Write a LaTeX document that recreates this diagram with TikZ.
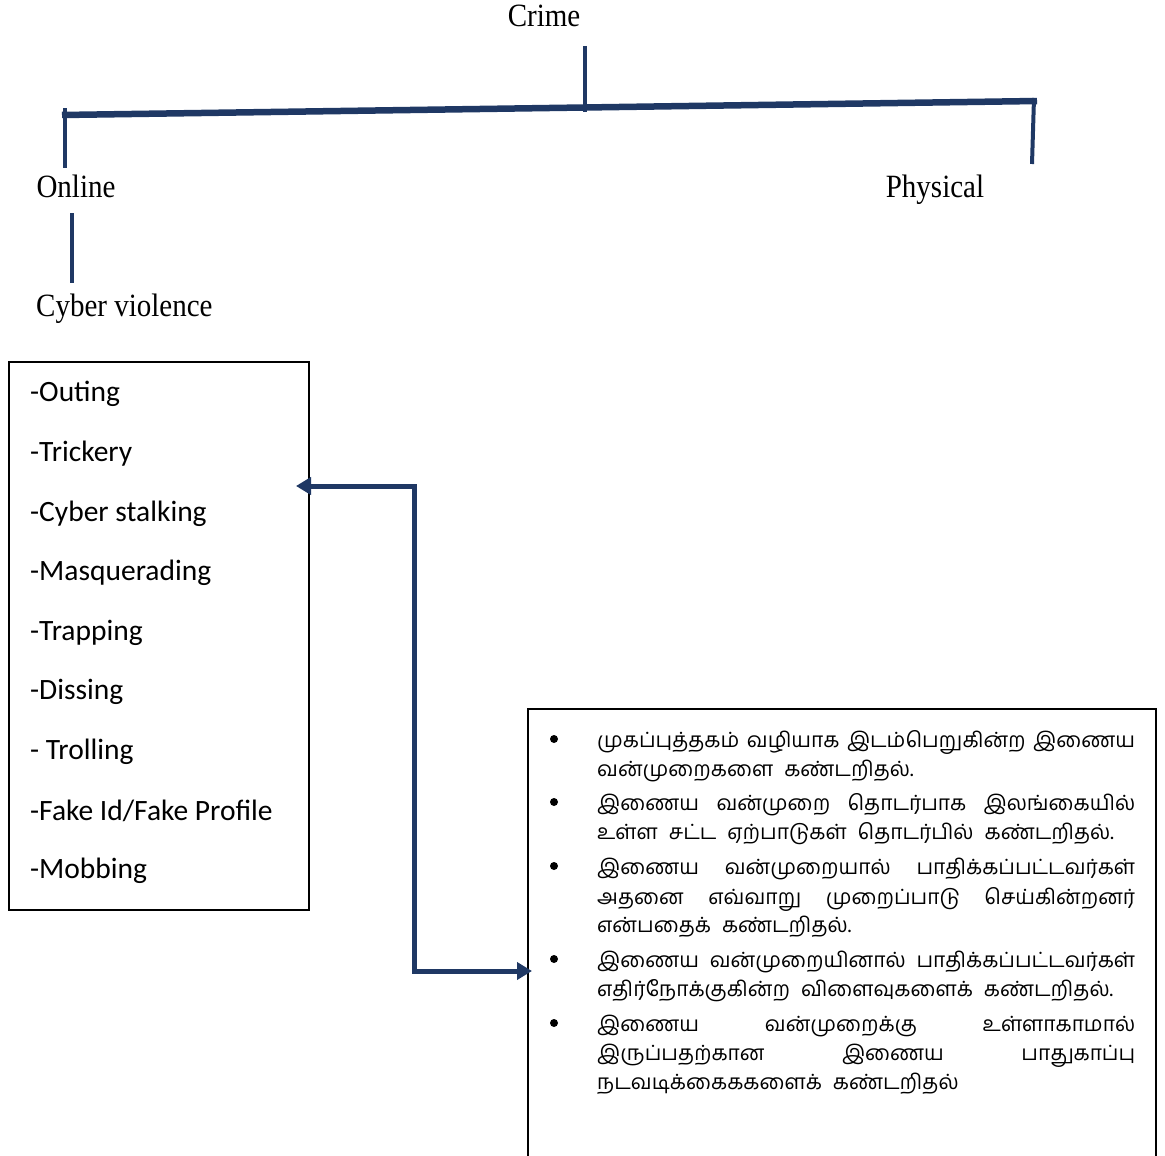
\documentclass[tikz,border=0pt]{standalone}
\usepackage{fontspec}
\setmainfont{Liberation Serif}
\newfontfamily\listfont{Carlito}
\newfontfamily\tamilfont[Script=Tamil]{Hind Madurai}
\usetikzlibrary{arrows.meta,calc}
\definecolor{navy}{RGB}{31,56,100}
\newcommand{\tamset}{\tamilfont\fontsize{21}{24}\selectfont}
\newcommand{\jl}[1]{\makebox[538pt][s]{#1}}
\newcommand{\wl}[1]{{\spaceskip=11pt\relax #1}}
\newcommand{\tall}[1]{\scalebox{1}[1.12]{#1}}
\tikzset{
  treeline/.style={draw=navy,line width=4pt},
  barline/.style={draw=navy,line width=6.5pt},
  lab/.style={font=\fontsize{29}{32}\selectfont,inner sep=0pt},
  item/.style={font=\listfont\fontsize{29.5}{32}\selectfont,anchor=west,inner sep=0pt},
  tline/.style={font=\tamset,anchor=base west,inner sep=0pt},
  bul/.style={circle,fill=black,inner sep=0pt,minimum size=8pt},
  link/.style={draw=navy,line width=5pt,{Triangle[length=15pt,width=17pt]}-{Triangle[length=15pt,width=17pt]}},
}
\begin{document}
\begin{tikzpicture}[x=1pt,y=-1pt]
\useasboundingbox (0,0) rectangle (1165,1156);
% labels
\node[lab] (crime) at (544,16) {\tall{Crime}};
\node[lab] (online) at (76,186) {\tall{Online}};
\node[lab] (physical) at (935,190) {\tall{Physical}};
\node[lab,anchor=west] (cyber) at (36,309) {\tall{Cyber violence}};
% tree lines
\coordinate (ctop) at (585,46);
\coordinate (cbot) at (585,112);
\coordinate (bl) at (62,115);
\coordinate (br) at (1037,101);
\draw[treeline] (ctop) -- (cbot);
\draw[barline] (bl) -- (br);
\draw[treeline] (65,108) -- (65,168);
\draw[treeline] (1034,98) -- (1032,164);
\draw[treeline] (72,213) -- (72,283);
% left box
\node[draw=black,line width=2pt,minimum width=300pt,minimum height=548pt,anchor=north west,inner sep=0pt] (lbox) at (8,361) {};
\node[item] (i1) at (30,394) {-Outing};
\node[item] (i2) at (30,454) {-Trickery};
\node[item] (i3) at (30,514) {-Cyber stalking};
\node[item] (i4) at (30,573) {-Masquerading};
\node[item] (i5) at (30,633) {-Trapping};
\node[item] (i6) at (30,692) {-Dissing};
\node[item] (i7) at (30,752) {- Trolling};
\node[item] (i8) at (30,811) {-Fake Id/Fake Profile};
\node[item] (i9) at (30,871) {-Mobbing};
% right box
\coordinate (rb1) at (528,1175);
\coordinate (rb2) at (528,709);
\coordinate (rb3) at (1156,709);
\coordinate (rb4) at (1156,1175);
\draw[black,line width=2pt] (rb1) -- (rb2) -- (rb3) -- (rb4);
\node[inner sep=0pt,minimum size=0pt] (rbox) at (528,971) {};
% bullets
\foreach \y in {739,802,866,959,1023} \node[bul] at (554,\y) {};
% tamil lines
\node[tline] (t1) at (597,747) {\jl{முகப்புத்தகம் வழியாக இடம்பெறுகின்ற இணைய}};
\node[tline] (t2) at (597,776) {\wl{வன்முறைகளை கண்டறிதல்.}};
\node[tline] (t3) at (597,810) {\jl{இணைய வன்முறை தொடர்பாக இலங்கையில்}};
\node[tline] (t4) at (597,839) {\wl{உள்ள சட்ட ஏற்பாடுகள் தொடர்பில் கண்டறிதல்.}};
\node[tline] (t5) at (597,874) {\jl{இணைய வன்முறையால் பாதிக்கப்பட்டவர்கள்}};
\node[tline] (t6) at (597,904) {\jl{அதனை எவ்வாறு முறைப்பாடு செய்கின்றனர்}};
\node[tline] (t7) at (597,932) {\wl{என்பதைக் கண்டறிதல்.}};
\node[tline] (t8) at (597,967) {\jl{இணைய வன்முறையினால் பாதிக்கப்பட்டவர்கள்}};
\node[tline] (t9) at (597,996) {\wl{எதிர்நோக்குகின்ற விளைவுகளைக் கண்டறிதல்.}};
\node[tline] (t10) at (597,1031) {\jl{இணைய வன்முறைக்கு உள்ளாகாமால்}};
\node[tline] (t11) at (597,1060) {\jl{இருப்பதற்கான இணைய பாதுகாப்பு}};
\node[tline] (t12) at (597,1089) {\wl{நடவடிக்கைககளைக் கண்டறிதல்}};
% link arrow
\coordinate (la) at ([xshift=-14pt]lbox.east |- 0,486);
\coordinate (ra) at ([xshift=4pt]rbox.center);
\draw[link] (la) -| ($(la)!.5!(ra)$) |- (ra);
\end{tikzpicture}
\end{document}
